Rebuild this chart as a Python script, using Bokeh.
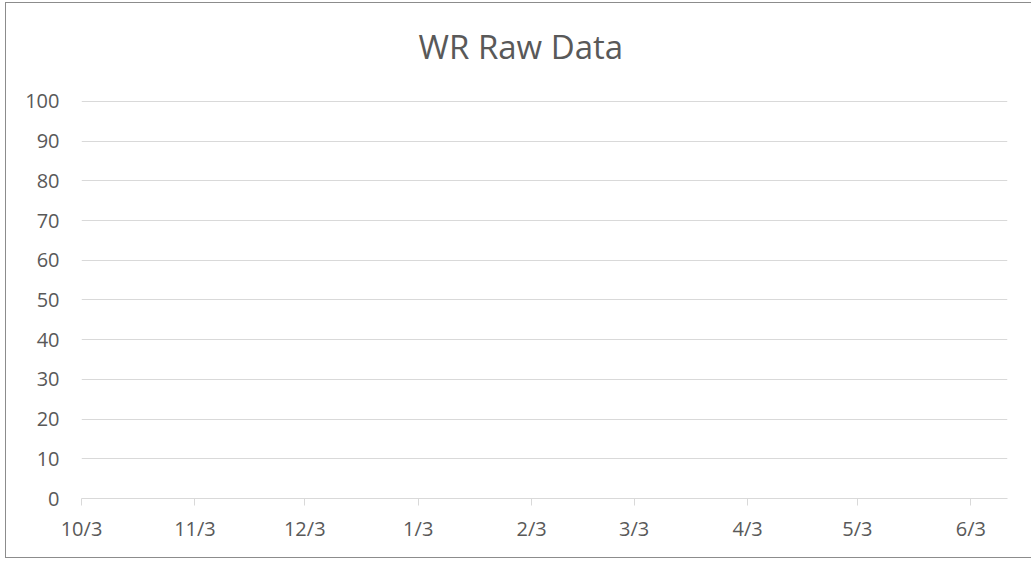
from datetime import datetime
from bokeh.plotting import figure
from bokeh.models import Range1d, FixedTicker, ColumnDataSource
from bokeh.embed import file_html
from bokeh.resources import INLINE

# ---- data ----
title_text = "WR Raw Data"
tick_dates = [datetime(2018, 10, 3), datetime(2018, 11, 3), datetime(2018, 12, 3),
              datetime(2019, 1, 3), datetime(2019, 2, 3), datetime(2019, 3, 3),
              datetime(2019, 4, 3), datetime(2019, 5, 3), datetime(2019, 6, 3)]
tick_labels = ["10/3", "11/3", "12/3", "1/3", "2/3", "3/3", "4/3", "5/3", "6/3"]
x_start = datetime(2018, 10, 3)
x_end = datetime(2019, 6, 13)
y_ticks = [0, 10, 20, 30, 40, 50, 60, 70, 80, 90, 100]
# the series has no values in the reference chart
wr_dates = []
wr_values = []

def ms(d):
    return (d - datetime(1970, 1, 1)).total_seconds() * 1000.0

TEXT = "#595959"
GRID = "#d9d9d9"
FONT = "Open Sans"

# frame extends a little above the 100 gridline so the title can sit higher
p = figure(width=1026, height=556, x_axis_type="datetime",
           x_range=Range1d(ms(x_start), ms(x_end)), y_range=Range1d(0, 107.3),
           output_backend="svg", toolbar_location=None,
           min_border_left=75, min_border_right=25, min_border_top=69, min_border_bottom=61)

src = ColumnDataSource(dict(x=[ms(d) for d in wr_dates], y=wr_values))
p.line("x", "y", source=src, line_color="#4472c4", line_width=2)

p.title.text = title_text
p.title.align = "left"
p.title.offset = 337
p.title.standoff = 8
p.title.text_font = FONT
p.title.text_font_size = "33px"
p.title.text_font_style = "normal"
p.title.text_color = TEXT

p.outline_line_color = None
p.background_fill_color = "white"
p.border_fill_color = "white"
p.styles = {"border": "1px solid #8c8c8c", "border-right": "none",
            "margin-left": "5px", "margin-top": "2px"}

# x axis
xa = p.xaxis[0]
xa.ticker = FixedTicker(ticks=[ms(d) for d in tick_dates])
xa.major_label_overrides = {ms(d): lab for d, lab in zip(tick_dates, tick_labels)}
xa.axis_line_color = GRID
xa.axis_line_width = 1
xa.major_tick_line_color = GRID
xa.major_tick_out = 7
xa.major_tick_in = 0
xa.minor_tick_line_color = None
xa.major_label_text_font = FONT
xa.major_label_text_font_size = "20px"
xa.major_label_text_color = TEXT
xa.major_label_standoff = 9

# y axis
ya = p.yaxis[0]
ya.ticker = FixedTicker(ticks=y_ticks)
ya.axis_line_color = None
ya.major_tick_line_color = None
ya.minor_tick_line_color = None
ya.major_tick_out = 0
ya.major_tick_in = 0
ya.major_label_text_font = FONT
ya.major_label_text_font_size = "20px"
ya.major_label_text_color = TEXT
ya.major_label_standoff = 22

p.xgrid.grid_line_color = None
p.ygrid.grid_line_color = GRID
p.ygrid.grid_line_width = 1

open("out.html", "w").write(file_html(p, INLINE))
